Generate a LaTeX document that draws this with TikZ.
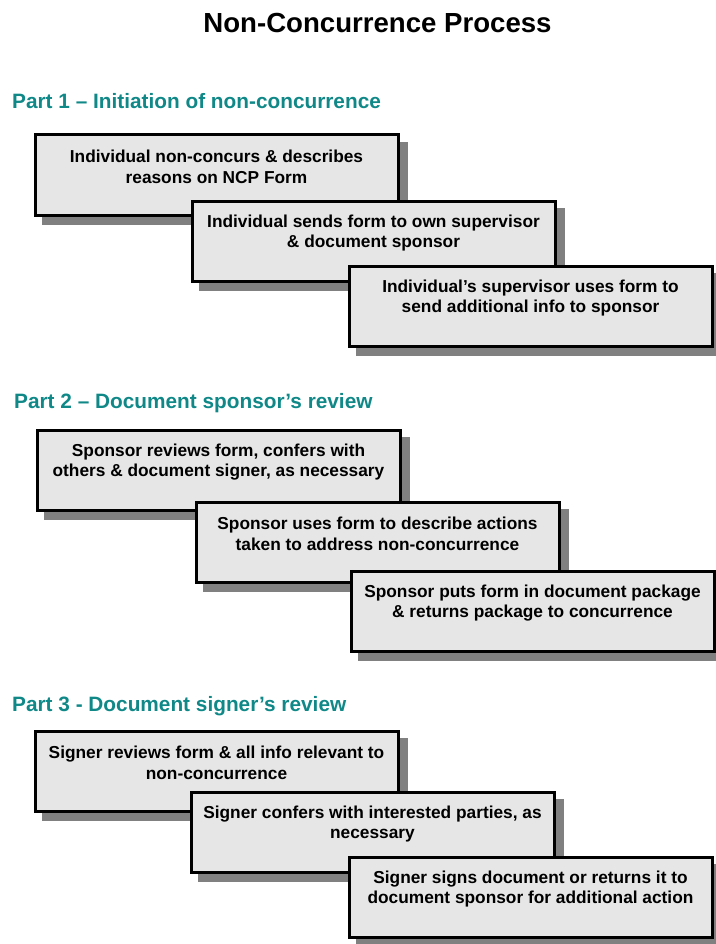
\documentclass[tikz,border=0pt]{standalone}
\usepackage{fontspec}
\setmainfont{Liberation Sans}
\definecolor{teal}{RGB}{16,136,136}
\definecolor{boxfill}{RGB}{230,230,230}
\definecolor{shadowgray}{RGB}{128,128,128}
\tikzset{
  stepbox/.style={draw=black, line width=3pt, fill=boxfill, minimum width=363pt, minimum height=80pt, inner sep=0pt, anchor=north west},
  shadowbox/.style={fill=shadowgray, draw=none, minimum width=366pt, minimum height=83pt, inner sep=0pt, anchor=north west},
  steptext/.style={font=\fontsize{17.3}{20.5}\selectfont\bfseries, align=center, anchor=center, inner sep=0pt},
  parthead/.style={font=\fontsize{20.8}{24}\selectfont\bfseries, text=teal, anchor=west, inner sep=0pt},
}
\newcommand{\stepitem}[4]{%
  % #1 name, #2 x, #3 y (outer top-left), #4 text
  \node[shadowbox] (#1s) at (#2+10,#3+10) {};
  \node[stepbox] (#1) at (#2+1.5,#3+1.5) {};
  \node[steptext] (#1t) at ([yshift=-33.5pt]#1.north) {#4};
}
\begin{document}
\begin{tikzpicture}[x=1pt,y=-1pt]
\useasboundingbox (0,0) rectangle (715,944);
\node[font=\fontsize{27.6}{30}\selectfont\bfseries, inner sep=0pt] (title) at (377.5,23) {Non-Concurrence Process};

\node[parthead] (h1) at (12,101) {Part 1 – Initiation of non-concurrence};
\stepitem{a1}{32}{132}{Individual non-concurs \& describes\\reasons on NCP Form}
\stepitem{a2}{189}{198}{Individual sends form to own supervisor\\\& document sponsor}
\stepitem{a3}{346}{263}{Individual’s supervisor uses form to\\send additional info to sponsor}

\node[parthead] (h2) at (14,403) {Part 2 – Document sponsor’s review};
\stepitem{b1}{34}{427}{Sponsor reviews form, confers with\\others \& document signer, as necessary}
\stepitem{b2}{193}{499}{Sponsor uses form to describe actions\\taken to address non-concurrence}
\stepitem{b3}{348}{568}{Sponsor puts form in document package\\\& returns package to concurrence}

\node[parthead] (h3) at (12,706) {Part 3 - Document signer’s review};
\stepitem{c1}{32}{728}{Signer reviews form \& all info relevant to\\non-concurrence}
\stepitem{c2}{188}{789}{Signer confers with interested parties, as\\necessary}
\stepitem{c3}{346}{854}{Signer signs document or returns it to\\document sponsor for additional action}
\end{tikzpicture}
\end{document}
